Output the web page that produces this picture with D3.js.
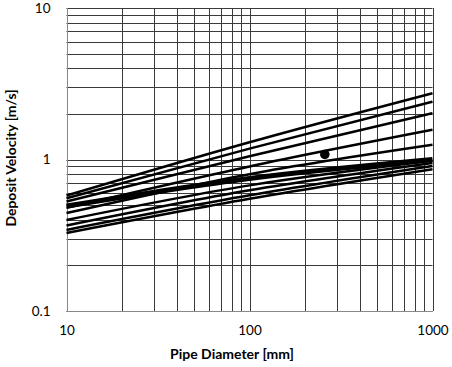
<!DOCTYPE html>
<html><head><meta charset="utf-8">
<script src="https://cdn.jsdelivr.net/npm/d3@7"></script>
<style>
html,body{margin:0;padding:0;background:#fff;}
text{font-family:Lato, "Open Sans", sans-serif;}
</style></head>
<body><svg id="chart" width="452" height="367"></svg>
<script>
// Pipe diameters (mm) where values were read
const diameters = [10, 100, 1000];
// Thin curves: deposit velocity (m/s) at the diameters above
const curve1 = [0.578, 1.30, 2.74];
const curve2 = [0.555, 1.18, 2.41];
const curve3 = [0.528, 1.05, 2.02];
const curve4 = [0.479, 0.90, 1.57];
const curve5 = [0.443, 0.80, 1.25];
const curve6 = [0.399, 0.675, 0.98];
const curve7 = [0.367, 0.627, 0.95];
const curve8 = [0.343, 0.58, 0.905];
const curve9 = [0.327, 0.55, 0.862];
// Thick reference curve
const thickCurve = [0.493, 0.75, 1.0];
// Single measured point
const pointD = [258];
const pointV = [1.08];
// Tick labels
const xTicks = [10, 100, 1000];
const yTicks = [0.1, 1, 10];

const thinCurves = [curve1, curve2, curve3, curve4, curve5, curve6, curve7, curve8, curve9];

const svg = d3.select("#chart");
const L = 66.5, R = 432.5, T = 8, B = 311;
const x = d3.scaleLog().domain([10, 1000]).range([L, R]);
const y = d3.scaleLog().domain([0.1, 10]).range([B, T]);

// grid
const xGrid = [];
for (let d = 1; d <= 2; d++) for (let m = 1; m <= 9; m++) xGrid.push(m * Math.pow(10, d));
xGrid.push(1000);
const yGrid = [];
for (let d = -1; d <= 0; d++) for (let m = 1; m <= 9; m++) yGrid.push(+(m * Math.pow(10, d)).toFixed(3));
yGrid.push(10);

const g = svg.append("g");
g.selectAll("line.gx").data(xGrid).enter().append("line")
  .attr("x1", d => Math.round(x(d)) + 0.5).attr("x2", d => Math.round(x(d)) + 0.5)
  .attr("y1", T).attr("y2", B)
  .attr("stroke", "#3a3a3a").attr("stroke-width", 1);
g.selectAll("line.gy").data(yGrid).enter().append("line")
  .attr("y1", d => Math.round(y(d)) + 0.5).attr("y2", d => Math.round(y(d)) + 0.5)
  .attr("x1", L).attr("x2", R)
  .attr("stroke", "#3a3a3a").attr("stroke-width", 1);
// left & bottom axis lines (lighter)
g.append("line").attr("x1", Math.round(L)+0.5).attr("x2", Math.round(L)+0.5).attr("y1", T).attr("y2", B+0.5).attr("stroke", "#888").attr("stroke-width", 1);
g.append("line").attr("x1", L).attr("x2", R+0.5).attr("y1", Math.round(B)+0.5).attr("y2", Math.round(B)+0.5).attr("stroke", "#888").attr("stroke-width", 1);

const xAxis = d3.axisBottom(x).tickValues(xTicks).tickFormat(d3.format("d")).tickSize(0).tickPadding(14);
const xa = svg.append("g").attr("transform", `translate(0,${B})`).call(xAxis);
xa.select(".domain").remove();
xa.selectAll("text").attr("font-size", 13.5).attr("fill", "#000").attr("font-family", "Lato, sans-serif");

const yAxis = d3.axisLeft(y).tickValues(yTicks).tickFormat(d => d === 0.1 ? "0.1" : d3.format("d")(d)).tickSize(0).tickPadding(16);
const ya = svg.append("g").attr("transform", `translate(${L},0)`).call(yAxis);
ya.select(".domain").remove();
ya.selectAll("text").attr("font-size", 13.5).attr("fill", "#000").attr("font-family", "Lato, sans-serif");

const line = d3.line().x((d, i) => x(diameters[i])).y(d => y(d)).curve(d3.curveMonotoneX);
svg.append("g").selectAll("path").data(thinCurves).enter().append("path")
  .attr("d", d => line(d)).attr("fill", "none").attr("stroke", "#000").attr("stroke-width", 2.5);
svg.append("path").attr("d", line(thickCurve)).attr("fill", "none").attr("stroke", "#000").attr("stroke-width", 5);

svg.selectAll("circle.pt").data(pointD).enter().append("circle")
  .attr("cx", d => x(d)).attr("cy", (d, i) => y(pointV[i])).attr("r", 4.8).attr("fill", "#000");

svg.append("text").attr("x", 232).attr("y", 359).attr("text-anchor", "middle")
  .attr("font-size", 14).attr("font-weight", "bold").text("Pipe Diameter [mm]");
svg.append("text").attr("transform", `translate(16,158) rotate(-90)`).attr("text-anchor", "middle")
  .attr("font-size", 14).attr("font-weight", "bold").text("Deposit Velocity [m/s]");
</script></body></html>
